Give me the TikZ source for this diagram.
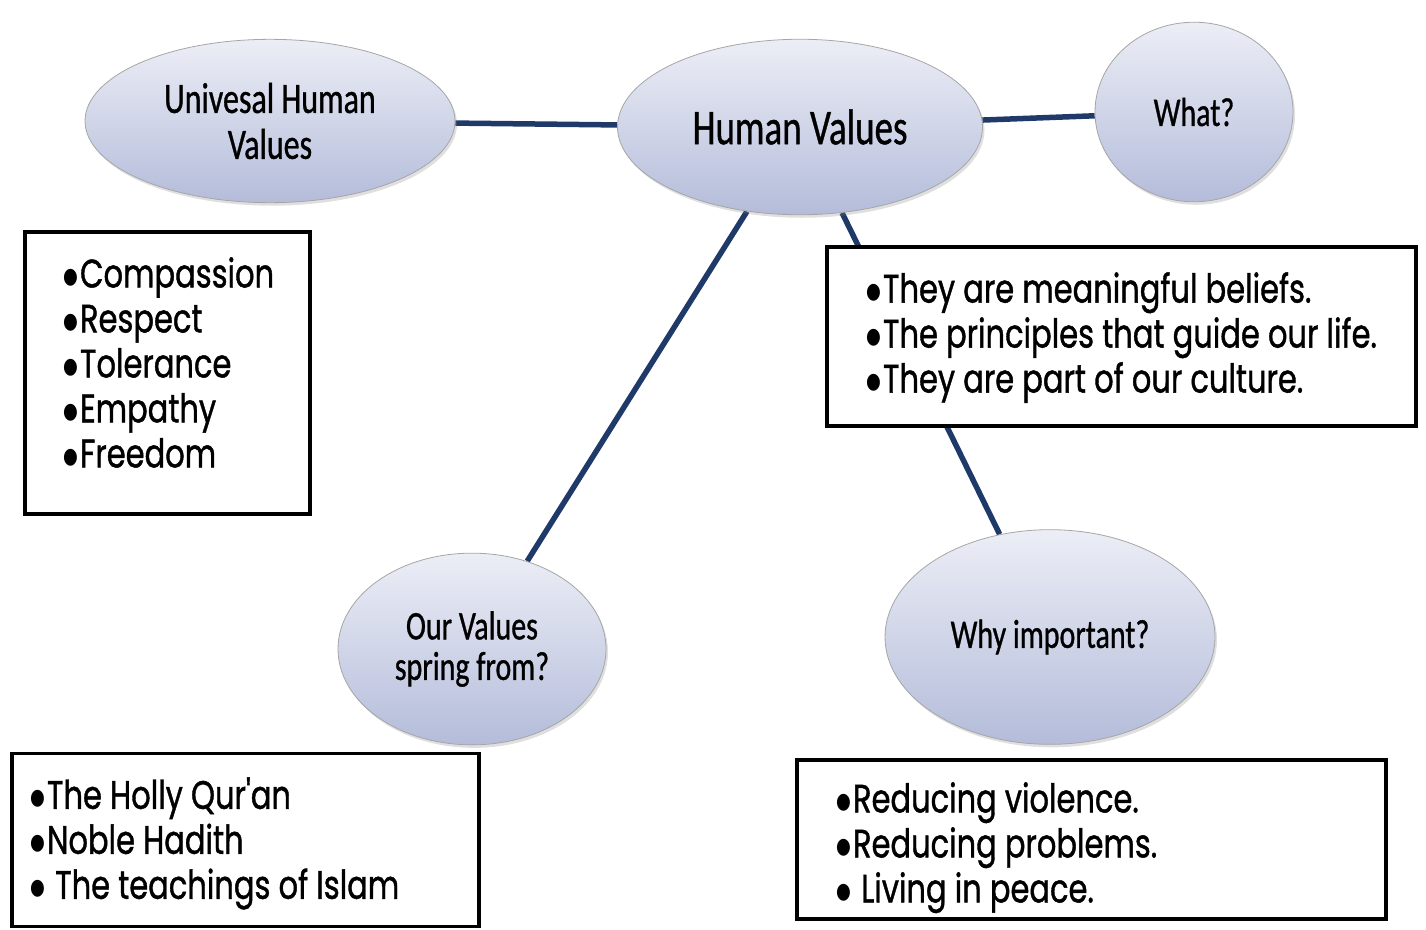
\documentclass[tikz,border=0pt]{standalone}
\usepackage{fontspec}
\setmainfont{Poppins}[FakeBold=1.2]
\newfontfamily\calib{Carlito}[FakeBold=1]
\newfontfamily\symfont{DejaVu Sans}
\usetikzlibrary{shapes.geometric,shadows,backgrounds}

\definecolor{linkblue}{HTML}{1F3A68}
\definecolor{ovaltop}{HTML}{ECEEF6}
\definecolor{ovalbot}{HTML}{B4BCDA}

\newcommand{\blob}{\raisebox{3pt}{\symfont\fontsize{17}{17}\selectfont ●}\hspace{2pt}}

\tikzset{
  oval/.style={ellipse,draw=gray!70,line width=0.8pt,top color=ovaltop,
    bottom color=ovalbot,align=center,inner sep=0pt,yscale=1.35,
    drop shadow={opacity=0.25,shadow xshift=2pt,shadow yshift=-3pt},
    font=\calib\fontsize{30}{30}\selectfont},
  listbox/.style={draw,line width=3.5pt,fill=white,inner sep=0pt},
  items/.style={align=left,inner sep=0pt,anchor=north west,yscale=1.3,
    font=\fontsize{30.5}{34.6}\selectfont},
  link/.style={linkblue,line width=5.5pt}
}

\begin{document}
\begin{tikzpicture}[x=1pt,y=-1pt]

\useasboundingbox (0,0) rectangle (1426,929);

% ovals
\node[oval,minimum width=370,minimum height=121,font=\calib\fontsize{32}{34}\selectfont]
  (univ) at (270,121) {Univesal Human\\Values};
\node[oval,minimum width=365,minimum height=130,font=\calib\fontsize{37}{37}\selectfont]
  (human) at (800,127) {Human Values};
\node[oval,minimum width=198,minimum height=133] (what) at (1194,112) {What?};
\node[oval,minimum width=268,minimum height=142] (spring) at (472,649) {Our Values\\spring from?};
\node[oval,minimum width=330,minimum height=159] (why) at (1050,637) {Why important?};

% boxes
\node[listbox,minimum width=285,minimum height=282] (universalbox) at (167.5,373) {};
\node[items] (universallist) at (63,257)
  {\blob Compassion\\\blob Respect\\\blob Tolerance\\\blob Empathy\\\blob Freedom};

\node[listbox,minimum width=589,minimum height=179] (whatbox) at (1121.5,336.5) {};
\node[items] (whatlist) at (866,272)
  {\blob They are meaningful beliefs.\\\blob The principles that guide our life.\\\blob They are part of our culture.};

\node[listbox,minimum width=467,minimum height=173] (springbox) at (245.5,840) {};
\node[items] (springlist) at (30,777)
  {\blob The Holly Qur\textquotesingle an\\\blob Noble Hadith\\\blob\ The teachings of Islam};

\node[listbox,minimum width=589,minimum height=159] (whybox) at (1091.5,839.5) {};
\node[items] (whylist) at (836,782)
  {\blob Reducing violence.\\\blob Reducing problems.\\\blob\ Living in peace.};

% links
\begin{pgfonlayer}{background}
\draw[link] (univ) -- (human);
\draw[link] (human) -- (what);
\draw[link] (human) -- (spring);
\draw[link] (human) -- (why);
\end{pgfonlayer}

\end{tikzpicture}
\end{document}
